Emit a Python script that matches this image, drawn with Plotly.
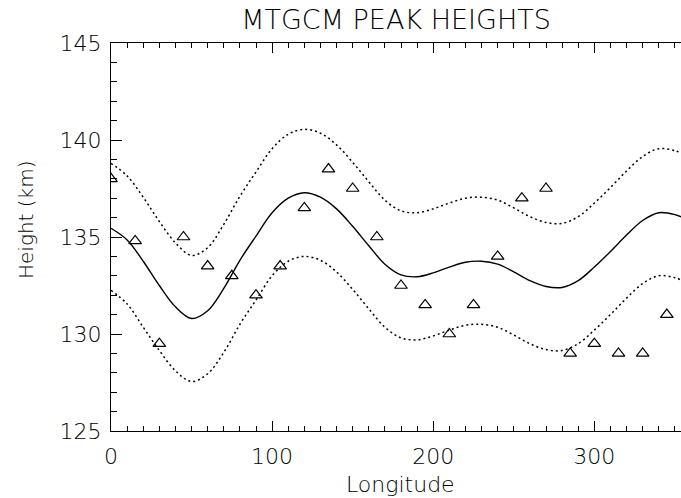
import plotly.graph_objects as go

# Observed peak heights (every 15 degrees of longitude)
obs_lon = [0, 15, 30, 45, 60, 75, 90, 105, 120, 135, 150, 165,
           180, 195, 210, 225, 240, 255, 270, 285, 300, 315, 330, 345]
obs_height = [138.0, 134.8, 129.5, 135.0, 133.5, 133.0, 132.0, 133.5, 136.5, 138.5, 137.5, 135.0,
              132.5, 131.5, 130.0, 131.5, 134.0, 137.0, 137.5, 129.0, 129.5, 129.0, 129.0, 131.0]

# Model curve and its upper / lower envelopes (every 10 degrees)
fit_lon = list(range(0, 361, 10))
fit_height = [135.45, 134.85, 133.75, 132.5, 131.4, 130.8, 131.2, 132.35, 133.8, 135.05,
              136.25, 137.0, 137.28, 137.05, 136.45, 135.55, 134.55, 133.6, 133.05, 132.95,
              133.15, 133.45, 133.7, 133.75, 133.6, 133.2, 132.75, 132.45, 132.4, 132.75,
              133.45, 134.25, 135.1, 135.85, 136.25, 136.15, 135.8]
upper_height = [138.8, 138.15, 137.05, 135.8, 134.7, 134.05, 134.45, 135.65, 137.1, 138.35,
                139.55, 140.3, 140.55, 140.35, 139.75, 138.85, 137.85, 136.9, 136.35, 136.25,
                136.45, 136.75, 137.0, 137.05, 136.9, 136.5, 136.05, 135.75, 135.7, 136.05,
                136.75, 137.55, 138.4, 139.15, 139.55, 139.45, 139.1]
lower_height = [132.25, 131.55, 130.35, 129.15, 128.1, 127.55, 127.95, 129.05, 130.5, 131.75,
                133.0, 133.75, 134.0, 133.8, 133.2, 132.3, 131.3, 130.35, 129.8, 129.7,
                129.9, 130.2, 130.45, 130.5, 130.35, 129.95, 129.5, 129.2, 129.15, 129.5,
                130.2, 131.0, 131.85, 132.6, 133.0, 132.9, 132.55]

FONT = "DejaVu Sans"
WEIGHT = 200

fig = go.Figure()

for yvals in (upper_height, lower_height):
    fig.add_trace(go.Scatter(
        x=fit_lon, y=yvals, mode="lines",
        line=dict(color="black", width=1.5, dash="2px,3px", shape="spline", smoothing=1),
        showlegend=False, hoverinfo="skip",
    ))

fig.add_trace(go.Scatter(
    x=fit_lon, y=fit_height, mode="lines",
    line=dict(color="black", width=1.4, shape="spline", smoothing=1),
    showlegend=False, hoverinfo="skip",
))

fig.add_trace(go.Scatter(
    x=obs_lon, y=obs_height, mode="markers",
    marker=dict(symbol="triangle-up-open", size=11, color="black", line=dict(width=1.2, color="black")),
    showlegend=False, cliponaxis=True,
))

fig.update_layout(
    width=681, height=498,
    margin=dict(l=111, r=0, t=43, b=67),
    paper_bgcolor="white", plot_bgcolor="white",
    font=dict(family=FONT, size=22, color="black", weight=WEIGHT),
    title=dict(text="MTGCM PEAK HEIGHTS", x=0.5, xref="paper", xanchor="center",
               y=1 - 20 / 498, yref="container", yanchor="middle",
               font=dict(family=FONT, size=27, color="black", weight=WEIGHT)),
    xaxis=dict(
        range=[0, 570 / 1.6111], showgrid=False, zeroline=False,
        showline=True, linecolor="black", linewidth=1, mirror="allticks",
        ticks="inside", ticklen=10, tickwidth=1, tickcolor="black",
        tick0=0, dtick=100, ticklabelstandoff=6,
        tickfont=dict(family=FONT, size=22, color="black", weight=WEIGHT),
        minor=dict(ticks="inside", ticklen=5, dtick=10, tickcolor="black", tickwidth=1, showgrid=False),
    ),
    yaxis=dict(
        range=[125, 145], showgrid=False, zeroline=False,
        showline=True, linecolor="black", linewidth=1, mirror=False,
        ticks="inside", ticklen=11, tickwidth=1, tickcolor="black",
        tick0=125, dtick=5, ticklabelstandoff=4,
        tickfont=dict(family=FONT, size=22, color="black", weight=WEIGHT),
        minor=dict(ticks="inside", ticklen=6, dtick=1, tickcolor="black", tickwidth=1, showgrid=False),
    ),
    annotations=[
        dict(text="Longitude", x=(400 - 111) / 570, y=(431 - 484) / 388, xref="paper", yref="paper",
             xanchor="center", yanchor="middle", showarrow=False,
             font=dict(family=FONT, size=22, color="black", weight=WEIGHT)),
        dict(text="Height (km)", x=(26 - 111) / 570, y=(431 - 220) / 388, xref="paper", yref="paper",
             xanchor="center", yanchor="middle", textangle=-90, showarrow=False,
             font=dict(family=FONT, size=20, color="black", weight=WEIGHT)),
    ],
)

fig.write_html("out.html")
